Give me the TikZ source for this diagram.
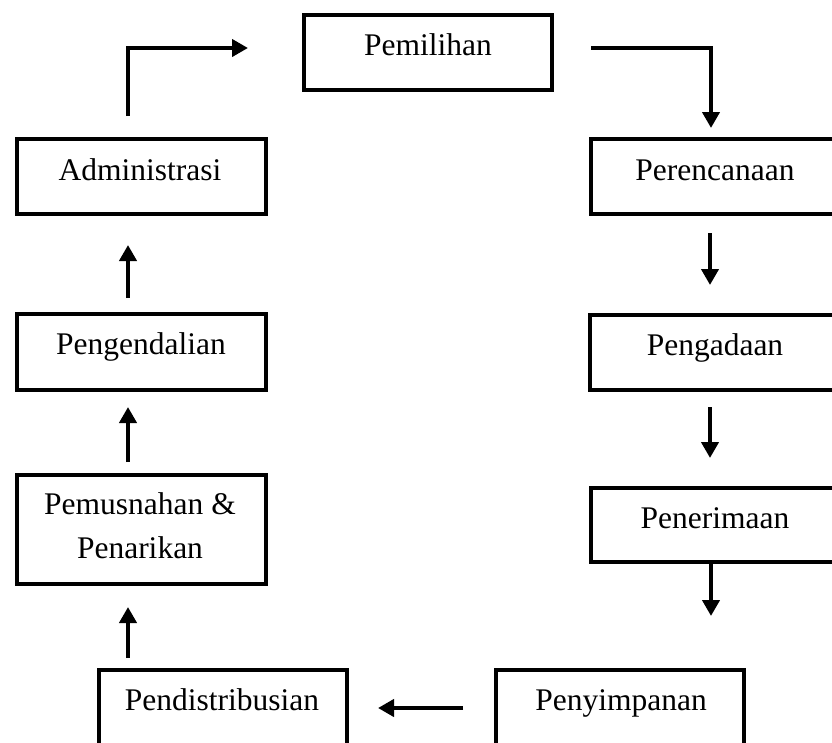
\documentclass[tikz,border=0pt]{standalone}
\usepackage{fontspec}
\setmainfont{Liberation Serif}
\usetikzlibrary{arrows.meta,calc}
\begin{document}
\begin{tikzpicture}[x=1pt,y=-1pt,
  box/.style={draw=black,line width=4.4pt,inner sep=0pt,outer sep=0pt},
  lbl/.style={anchor=base,inner sep=0pt,font=\fontsize{31.5}{38}\selectfont},
  arr/.style={line width=4pt,-{Triangle[width=17pt,length=16pt]}}]
\fill[white] (0,0) rectangle (832,742);
\useasboundingbox (0,0) rectangle (832,742);
\clip (0,0) rectangle (832,742);
% boxes
\node[box,minimum width=248pt,minimum height=75pt] (pem) at (428,52.5) {};
\node[box,minimum width=249pt,minimum height=75pt] (adm) at (141.5,176.5) {};
\node[box,minimum width=248pt,minimum height=75pt] (per) at (715,176.5) {};
\node[box,minimum width=249pt,minimum height=76pt] (pengend) at (141.5,352) {};
\node[box,minimum width=249pt,minimum height=75pt] (pengad) at (714.5,352.5) {};
\node[box,minimum width=249pt,minimum height=109pt] (pemus) at (141.5,529.5) {};
\node[box,minimum width=248pt,minimum height=74pt] (pener) at (715,525) {};
\node[box,minimum width=248pt,minimum height=75pt] (pendis) at (223,707.5) {};
\node[box,minimum width=248pt,minimum height=75pt] (penyim) at (620,707.5) {};
% labels
\node[lbl] (tpem) at (428,55) {Pemilihan};
\node[lbl] (tadm) at (140,180) {Administrasi};
\node[lbl] (tper) at (715,180) {Perencanaan};
\node[lbl] (tpengend) at (141,354) {Pengendalian};
\node[lbl] (tpengad) at (715,355) {Pengadaan};
\node[lbl] (tpemus1) at (140,514) {Pemusnahan \&};
\node[lbl] (tpemus2) at (140,558) {Penarikan};
\node[lbl] (tpener) at (715,528) {Penerimaan};
\node[lbl] (tpendis) at (222,710) {Pendistribusian};
\node[lbl] (tpenyim) at (621,710) {Penyimpanan};
% connectors
\draw[arr] ($(adm.north)+(-13.5,-23)$) |- ($(pem.west)+(-56,-4.5)$);
\draw[arr] ($(pem.east)+(39,-4.5)$) -| ($(per.north)+(-4,-11)$);
\draw[arr] ($(per.south)+(-5,19)$) -- ($(pengad.north)+(-4.5,-30)$);
\draw[arr] ($(pengad.south)+(-4.5,17)$) -- ($(pener.north)+(-5,-30)$);
\draw[arr] ($(pener.south)+(-4,0)$) -- ($(penyim.north)+(91,-54)$);
\draw[arr] ($(penyim.west)+(-33,0.5)$) -- ($(pendis.east)+(31,0.5)$);
\draw[arr] ($(pendis.north)+(-95,-12)$) -- ($(pemus.south)+(-13.5,23)$);
\draw[arr] ($(pemus.north)+(-13.5,-13)$) -- ($(pengend.south)+(-13.5,17)$);
\draw[arr] ($(pengend.north)+(-13.5,-16)$) -- ($(adm.south)+(-13.5,31)$);
\end{tikzpicture}
\end{document}
